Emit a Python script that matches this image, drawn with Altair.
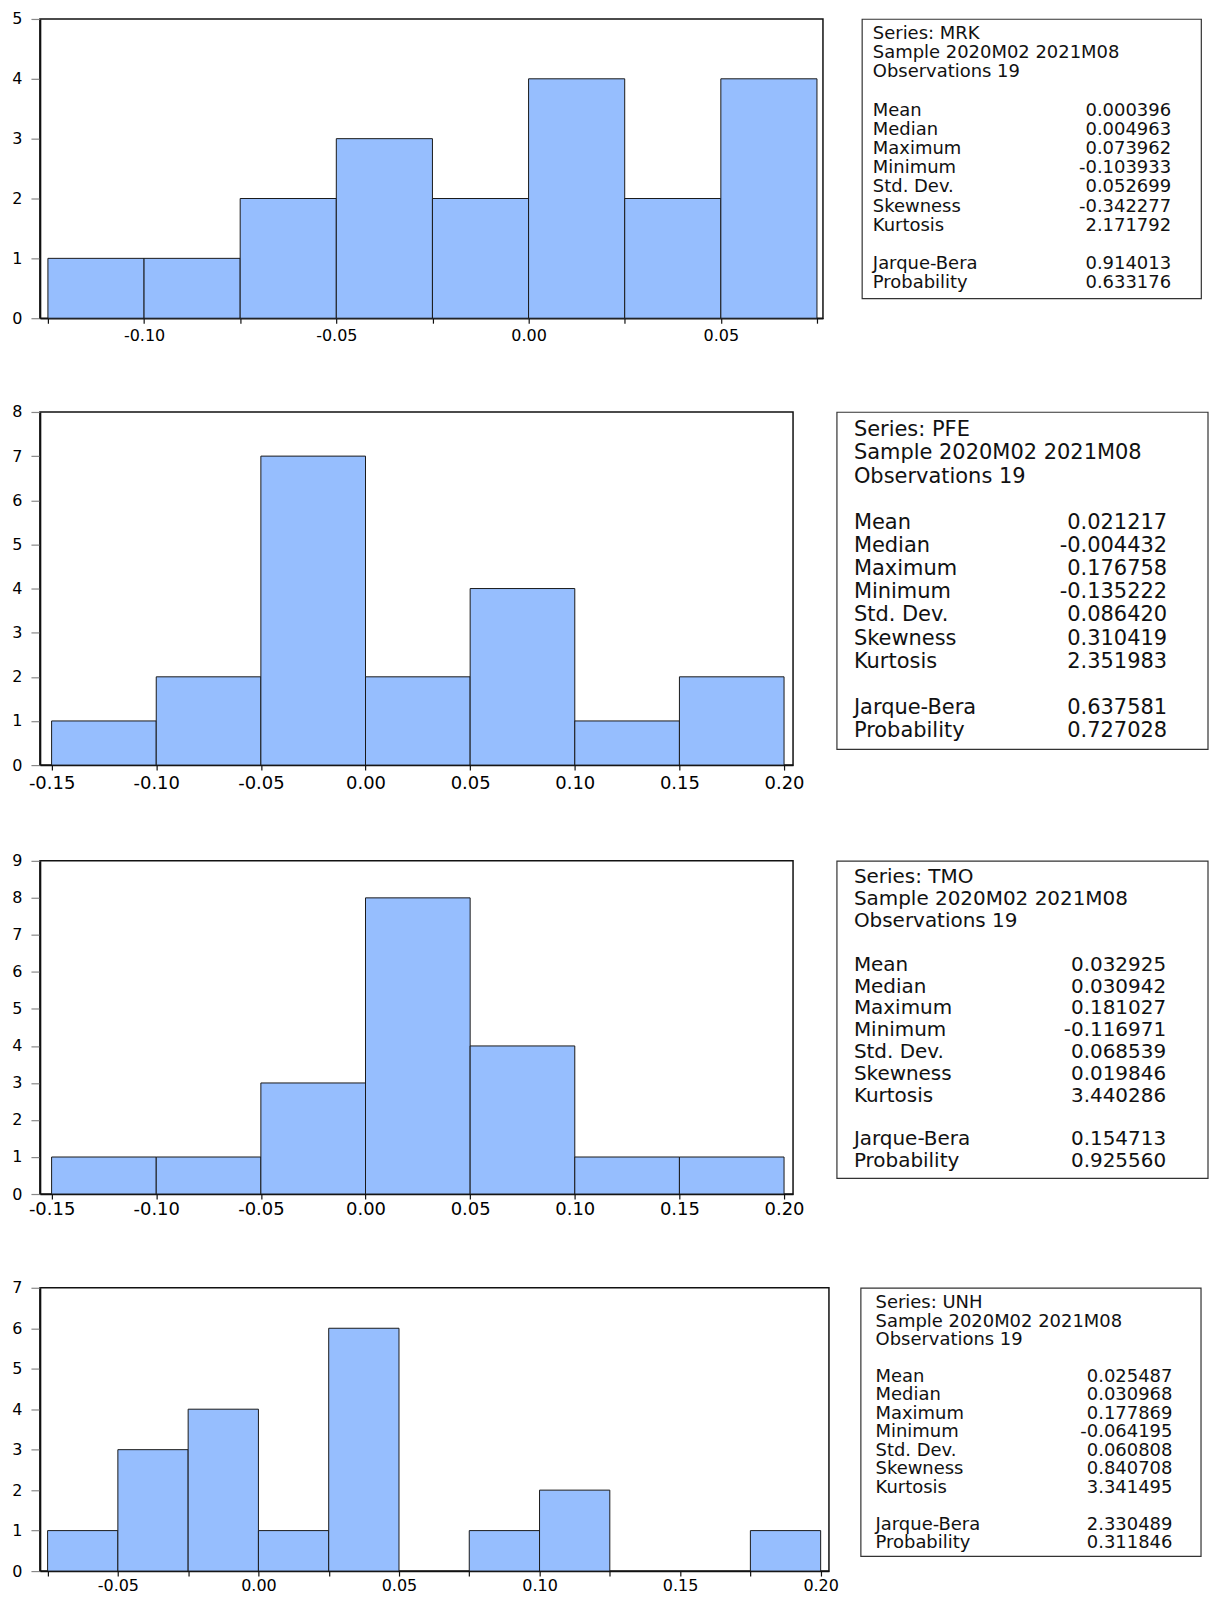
import altair as alt
import pandas as pd

FONT = "DejaVu Sans"
BAR_FILL = "#96BEFE"

# ---- histogram data (bin edges and counts) ----
mrk_edges = [-0.125, -0.100, -0.075, -0.050, -0.025, 0.000, 0.025, 0.050, 0.075]
mrk_counts = [1, 1, 2, 3, 2, 4, 2, 4]

pfe_edges = [-0.15, -0.10, -0.05, 0.00, 0.05, 0.10, 0.15, 0.20]
pfe_counts = [1, 2, 7, 2, 4, 1, 2]

tmo_edges = [-0.15, -0.10, -0.05, 0.00, 0.05, 0.10, 0.15, 0.20]
tmo_counts = [1, 1, 3, 8, 4, 1, 1]

unh_edges = [-0.075, -0.050, -0.025, 0.000, 0.025, 0.050, 0.075, 0.100,
             0.125, 0.150, 0.175, 0.200]
unh_counts = [1, 3, 4, 1, 6, 0, 1, 2, 0, 0, 1]

# ---- descriptive statistics ----
sample_text = "Sample 2020M02 2021M08"
obs_text = "Observations 19"
stat_names = ["Mean", "Median", "Maximum", "Minimum", "Std. Dev.",
              "Skewness", "Kurtosis", "Jarque-Bera", "Probability"]
stat_lines = [4, 5, 6, 7, 8, 9, 10, 12, 13]

mrk_stats = ["0.000396", "0.004963", "0.073962", "-0.103933", "0.052699",
             "-0.342277", "2.171792", "0.914013", "0.633176"]
pfe_stats = ["0.021217", "-0.004432", "0.176758", "-0.135222", "0.086420",
             "0.310419", "2.351983", "0.637581", "0.727028"]
tmo_stats = ["0.032925", "0.030942", "0.181027", "-0.116971", "0.068539",
             "0.019846", "3.440286", "0.154713", "0.925560"]
unh_stats = ["0.025487", "0.030968", "0.177869", "-0.064195", "0.060808",
             "0.840708", "3.341495", "2.330489", "0.311846"]

LABEL_EXPR = ("abs(round(datum.value*1000)) % 50 == 0 ? "
              "(datum.value < -0.000001 ? '-' : '') + format(abs(datum.value), '.2f') : ''")


def hist(edges, counts, ymax, xdom, width, height, xsize, xpad):
    df = pd.DataFrame({"lo": edges[:-1], "hi": edges[1:], "count": counts,
                       "base": [0] * len(counts)})
    df = df[df["count"] > 0]
    x = alt.X("lo:Q", scale=alt.Scale(domain=xdom, nice=False, zero=False),
              axis=alt.Axis(values=edges, labelExpr=LABEL_EXPR, title=None, grid=False,
                            tickSize=5, tickColor="#111", tickWidth=1.2,
                            labelPadding=xpad, labelFontSize=xsize, labelFont=FONT,
                            labelColor="#000", labelFlush=False, labelOverlap=False,
                            domainColor="#111", domainWidth=1.5))
    y = alt.Y("count:Q", scale=alt.Scale(domain=[0, ymax], nice=False, zero=True),
              axis=alt.Axis(values=list(range(ymax + 1)), format="d", title=None, grid=False,
                            tickSize=9, tickColor="#888", tickWidth=1.2,
                            labelPadding=9, labelFontSize=16, labelFont=FONT,
                            labelColor="#000", labelFlush=False,
                            domainColor="#111", domainWidth=1.8))
    return (alt.Chart(df)
            .mark_rect(fill=BAR_FILL, stroke="#1a1a1a", strokeWidth=1)
            .encode(x=x, x2="hi:Q", y=y, y2="base:Q")
            .properties(width=width, height=height,
                        view=alt.ViewBackground(stroke="#111", strokeWidth=1.5)))


def stats_box(series, values, width, height, r0, r1, fsize, left, right):
    df_h = pd.DataFrame({"line": [0, 1, 2],
                         "text": [f"Series: {series}", sample_text, obs_text]})
    df_s = pd.DataFrame({"line": stat_lines, "name": stat_names, "value": values})
    yenc = alt.Y("line:Q", scale=alt.Scale(domain=[0, 13], range=[r0, r1]), axis=None)
    common = dict(baseline="middle", font=FONT, fontSize=fsize, color="#111")
    t_head = alt.Chart(df_h).mark_text(align="left", **common).encode(
        x=alt.value(left), y=yenc, text="text:N")
    t_name = alt.Chart(df_s).mark_text(align="left", **common).encode(
        x=alt.value(left), y=yenc, text="name:N")
    t_val = alt.Chart(df_s).mark_text(align="right", **common).encode(
        x=alt.value(right), y=yenc, text="value:N")
    return alt.layer(t_head, t_name, t_val).properties(
        width=width, height=height,
        view=alt.ViewBackground(stroke="#333", strokeWidth=1.2))


row1 = alt.hconcat(
    hist(mrk_edges, mrk_counts, 5, [-0.12708, 0.07656], 785, 300, 16, 4),
    stats_box("MRK", mrk_stats, 340, 280, 15, 265, 18, 11, 310),
    spacing=39, bounds="flush")
row2 = alt.hconcat(
    hist(pfe_edges, pfe_counts, 8, [-0.15558, 0.20429], 755, 354, 18, 4),
    stats_box("PFE", pfe_stats, 372, 338, 18.4, 320, 21, 17.3, 331.3),
    spacing=43.7, bounds="flush")
row3 = alt.hconcat(
    hist(tmo_edges, tmo_counts, 9, [-0.15558, 0.20429], 755, 334, 18, 2),
    stats_box("TMO", tmo_stats, 372, 318, 16.7, 301, 20, 17.3, 330.3),
    spacing=43.7, bounds="flush")
row4 = alt.hconcat(
    hist(unh_edges, unh_counts, 7, [-0.07773, 0.20295], 791, 284, 16, 1),
    stats_box("UNH", unh_stats, 341, 269, 15.4, 256, 18, 15, 312.6),
    spacing=31.7, bounds="flush")

chart = (alt.vconcat(row1, row2, row3, row4, spacing=59)
         .properties(padding={"left": 3, "top": 0, "right": 0, "bottom": 0},
                     background="white")
         .configure(font=FONT))

chart.save("out.html", embed_options={"renderer": "svg", "actions": False})
